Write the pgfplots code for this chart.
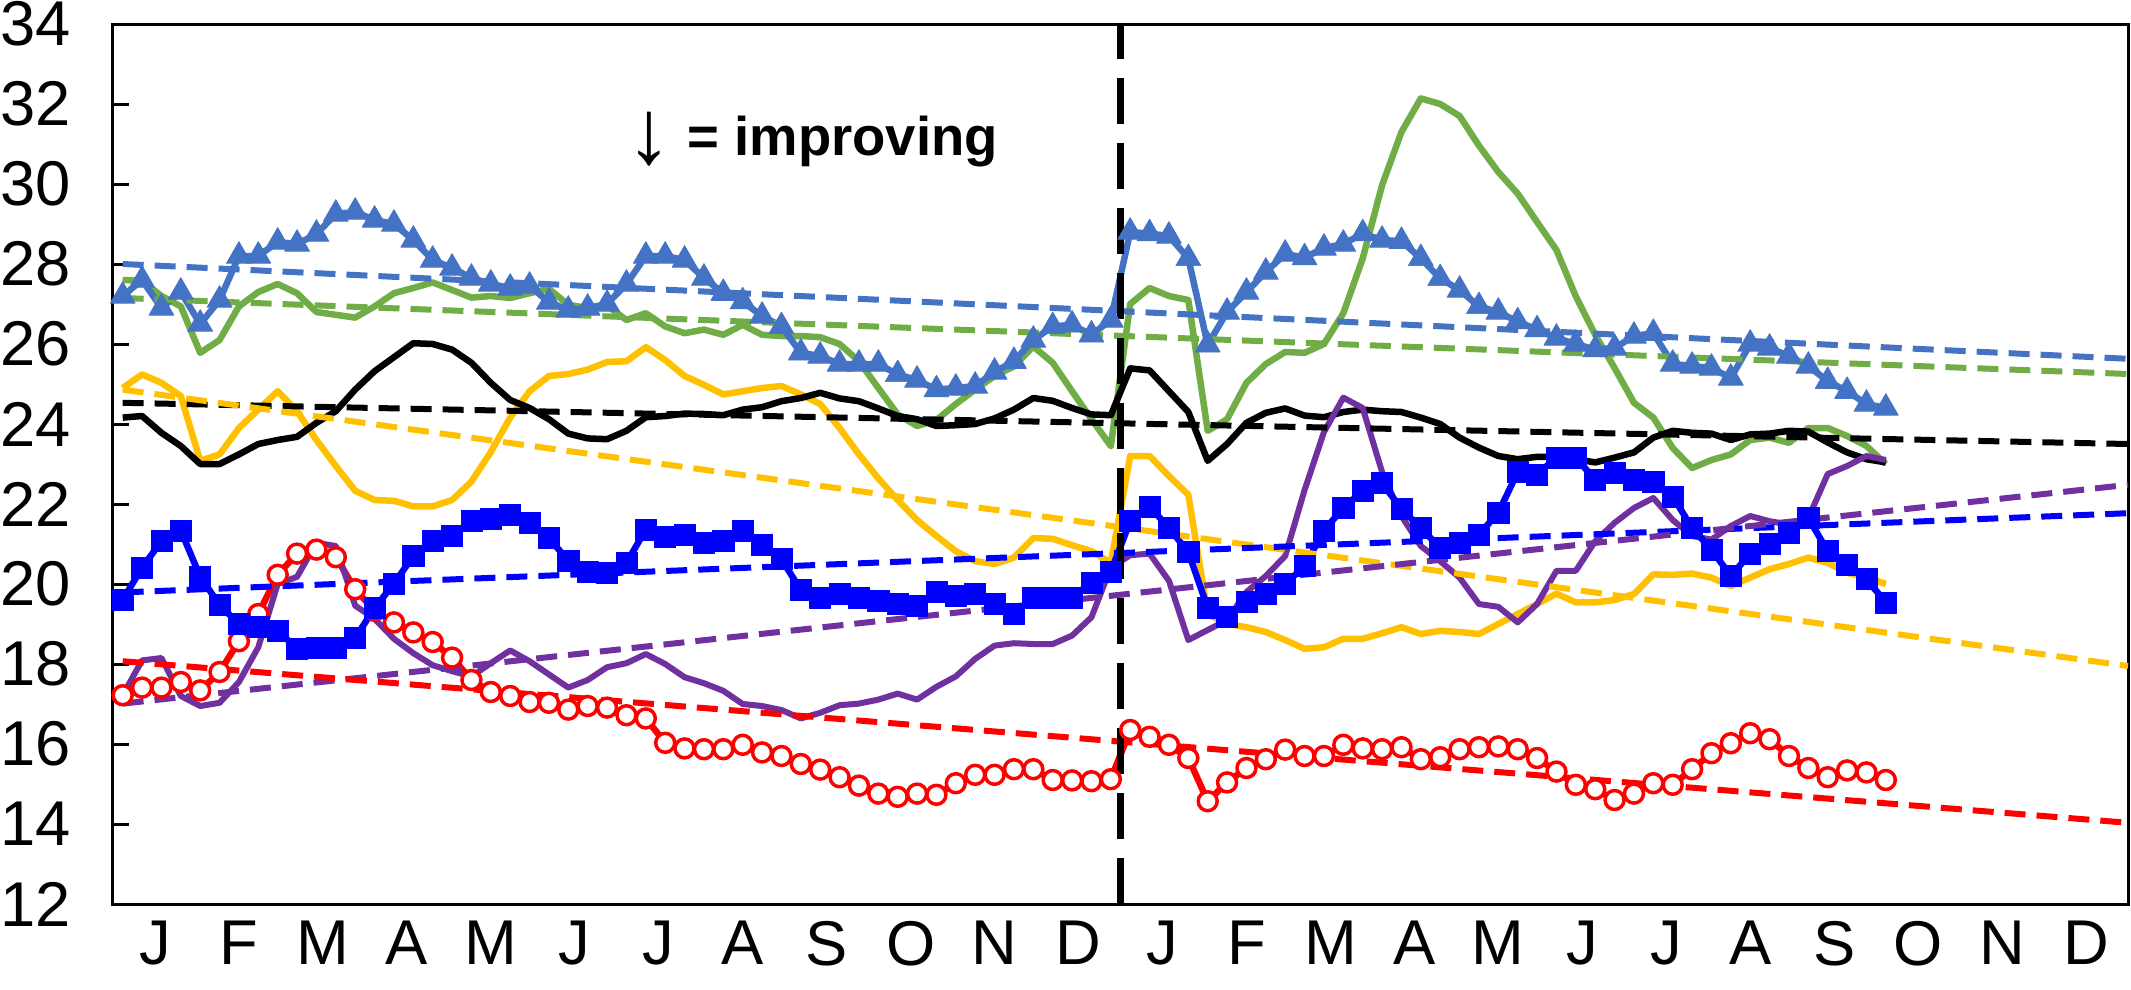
\documentclass[border=0pt]{standalone}
\usepackage{fontspec}
\setmainfont{Liberation Sans}
\usepackage{pgfplots}
\usepackage{pgfplotstable}
\pgfplotsset{compat=1.18}

\definecolor{tri}{HTML}{4472C4}
\definecolor{grn}{HTML}{70AD47}
\definecolor{yel}{HTML}{FFC000}
\definecolor{pur}{HTML}{7030A0}
\definecolor{sq}{HTML}{0000FF}
\definecolor{rd}{HTML}{FF0000}

% weekly values, weeks 0-51 = year 1, 52-91 = year 2
\pgfplotstableread{
i tri grn blk yel pur sq red
0 27.2 27.6 24.16 24.9 17.22 19.6 17.22
1 27.6 27.58 24.2 25.24 18.09 20.41 17.41
2 26.9 27.2 23.78 25.03 18.15 21.07 17.41
3 27.3 26.94 23.45 24.7 17.2 21.34 17.55
4 26.5 25.78 23.0 23.08 16.95 20.18 17.34
5 27.1 26.1 23.0 23.24 17.03 19.48 17.8
6 28.2 26.94 23.24 23.9 17.55 19.0 18.57
7 28.2 27.3 23.5 24.36 18.42 18.93 19.25
8 28.55 27.5 23.6 24.82 20.0 18.84 20.23
9 28.5 27.27 23.68 24.32 20.18 18.38 20.76
10 28.75 26.8 24.03 23.6 21.03 18.4 20.86
11 29.25 26.73 24.32 22.95 20.95 18.4 20.67
12 29.3 26.66 24.86 22.33 19.46 18.65 19.87
13 29.1 26.94 25.32 22.1 19.13 19.4 19.33
14 29.0 27.27 25.67 22.08 18.63 20.01 19.04
15 28.6 27.4 26.02 21.94 18.27 20.7 18.79
16 28.1 27.54 26.0 21.94 17.97 21.07 18.55
17 27.9 27.35 25.86 22.1 17.82 21.2 18.16
18 27.65 27.16 25.53 22.56 17.69 21.57 17.6
19 27.5 27.2 25.03 23.3 18.02 21.64 17.3
20 27.4 27.15 24.6 24.16 18.34 21.73 17.2
21 27.45 27.27 24.4 24.82 18.07 21.53 17.05
22 27.05 27.38 24.12 25.2 17.74 21.15 17.03
23 26.85 26.98 23.76 25.25 17.41 20.58 16.86
24 26.9 26.9 23.64 25.36 17.6 20.31 16.95
25 27.0 26.96 23.62 25.55 17.92 20.29 16.91
26 27.5 26.6 23.83 25.57 18.02 20.53 16.72
27 28.2 26.77 24.17 25.92 18.25 21.36 16.64
28 28.2 26.44 24.2 25.6 18.0 21.17 16.03
29 28.1 26.27 24.26 25.2 17.67 21.24 15.89
30 27.65 26.36 24.25 24.98 17.52 21.03 15.87
31 27.27 26.23 24.22 24.74 17.33 21.07 15.87
32 27.06 26.48 24.36 24.82 17.0 21.32 15.98
33 26.7 26.23 24.42 24.9 16.95 20.99 15.79
34 26.44 26.2 24.57 24.95 16.85 20.62 15.7
35 25.78 26.2 24.65 24.74 16.64 19.85 15.5
36 25.7 26.17 24.78 24.5 16.78 19.66 15.36
37 25.5 26.0 24.64 23.9 16.97 19.75 15.17
38 25.5 25.57 24.57 23.24 17.01 19.66 14.96
39 25.5 24.9 24.39 22.64 17.11 19.58 14.76
40 25.24 24.24 24.2 22.1 17.26 19.5 14.68
41 25.1 23.95 24.12 21.6 17.11 19.46 14.76
42 24.86 24.1 23.95 21.2 17.43 19.81 14.73
43 24.9 24.5 23.97 20.82 17.69 19.7 15.02
44 24.95 24.86 24.0 20.57 18.13 19.75 15.23
45 25.3 25.2 24.14 20.5 18.46 19.51 15.23
46 25.57 25.44 24.36 20.66 18.52 19.25 15.37
47 26.1 25.94 24.65 21.15 18.5 19.66 15.37
48 26.44 25.53 24.58 21.13 18.5 19.66 15.1
49 26.48 24.82 24.4 20.97 18.71 19.66 15.09
50 26.23 24.12 24.24 20.82 19.17 20.04 15.07
51 26.6 23.45 24.22 20.53 20.41 20.31 15.12
52 28.8 27.0 25.39 23.2 20.72 21.57 16.35
53 28.76 27.4 25.34 23.2 20.76 21.94 16.18
54 28.7 27.2 24.82 22.7 20.08 21.4 15.98
55 28.14 27.1 24.3 22.23 18.6 20.8 15.65
56 25.98 23.83 23.08 19.25 18.85 19.4 14.57
57 26.8 24.12 23.5 19.0 19.1 19.17 15.04
58 27.3 25.03 24.03 18.92 19.8 19.56 15.4
59 27.8 25.5 24.28 18.8 20.2 19.75 15.62
60 28.25 25.8 24.39 18.6 20.7 20.0 15.86
61 28.16 25.78 24.21 18.38 22.35 20.45 15.7
62 28.4 26.0 24.17 18.42 23.8 21.34 15.7
63 28.5 26.77 24.3 18.63 24.66 21.9 15.98
64 28.76 28.14 24.36 18.63 24.4 22.33 15.89
65 28.6 29.97 24.32 18.77 22.8 22.52 15.87
66 28.57 31.3 24.3 18.92 21.7 21.88 15.92
67 28.14 32.14 24.16 18.75 20.95 21.4 15.62
68 27.64 32.0 24.0 18.83 20.57 20.9 15.67
69 27.35 31.7 23.66 18.8 20.16 21.03 15.87
70 26.94 30.96 23.41 18.75 19.5 21.24 15.92
71 26.8 30.3 23.2 19.0 19.43 21.78 15.94
72 26.56 29.76 23.12 19.25 19.04 22.8 15.87
73 26.36 29.05 23.18 19.5 19.5 22.74 15.65
74 26.15 28.35 23.18 19.76 20.33 23.16 15.31
75 26.0 27.19 23.12 19.54 20.33 23.16 14.98
76 25.86 26.23 23.04 19.54 21.07 22.6 14.87
77 25.9 25.4 23.16 19.6 21.53 22.78 14.6
78 26.2 24.53 23.29 19.75 21.9 22.61 14.76
79 26.27 24.16 23.66 20.24 22.15 22.55 15.02
80 25.5 23.4 23.83 20.23 21.6 22.19 14.98
81 25.45 22.9 23.78 20.26 21.2 21.4 15.37
82 25.4 23.1 23.76 20.16 21.11 20.86 15.77
83 25.15 23.24 23.6 19.95 21.45 20.2 16.02
84 26.0 23.6 23.74 20.16 21.7 20.76 16.27
85 25.9 23.66 23.76 20.37 21.57 21.0 16.12
86 25.7 23.53 23.83 20.5 21.49 21.28 15.7
87 25.45 23.9 23.81 20.66 21.65 21.65 15.4
88 25.07 23.9 23.54 20.53 22.75 20.82 15.17
89 24.82 23.7 23.29 20.28 22.95 20.49 15.34
90 24.5 23.45 23.12 20.16 23.2 20.12 15.29
91 24.4 23.0 23.04 20.0 23.1 19.54 15.1
}\weekly

\begin{document}
\begin{tikzpicture}
\begin{axis}[
  scale only axis,
  width=201.5mm, height=88mm,
  xmin=-0.5, xmax=103.5, ymin=12, ymax=34,
  axis line style={line width=0.3mm},
  ytick={12,14,...,34},
  xtick={1.667,6,10.333,14.667,19,23.333,27.667,32,36.333,40.667,45,49.333,
         53.667,58,62.333,66.667,71,75.333,79.667,84,88.333,92.667,97,101.333},
  xticklabels={J,F,M,A,M,J,J,A,S,O,N,D,J,F,M,A,M,J,J,A,S,O,N,D},
  tick align=inside, ytick pos=left, xtick pos=bottom,
  x tick style={draw=none},
  y tick style={line width=0.3mm, black},
  major tick length=1.6mm,
  /pgf/number format/assume math mode=true,
  tick label style={font=\fontsize{18}{21}\selectfont},
  yticklabel style={xshift=-3mm},
  xticklabel style={yshift=-0.5mm},
  every axis plot/.append style={line width=0.65mm, line join=round},
  trend/.style={line width=0.6mm, dash pattern=on 2.1mm off 1.1mm},
  clip=false,
]
\addplot[yel, no marks] table[x=i, y=yel] {\weekly};
\addplot[grn, no marks] table[x=i, y=grn] {\weekly};
\addplot[black, no marks] table[x=i, y=blk] {\weekly};
\addplot[rd, mark=*, mark size=2.7pt, mark options={fill=white, draw=rd, line width=0.35mm}] table[x=i, y=red] {\weekly};
\addplot[pur, no marks, line width=0.6mm] table[x=i, y=pur] {\weekly};
\addplot[tri, mark=triangle*, mark size=4.1pt, mark options={fill=tri, draw=tri, line width=0.2pt}] table[x=i, y=tri] {\weekly};
\addplot[sq, mark=square*, mark size=3pt, mark options={fill=sq, draw=sq, line width=0.2pt}] table[x=i, y=sq] {\weekly};

% linear trend lines
\addplot[tri, trend] coordinates {(0,28.0) (103.5,25.63)};
\addplot[grn, trend] coordinates {(0,27.15) (103.5,25.25)};
\addplot[black, trend] coordinates {(0,24.53) (103.5,23.5)};
\addplot[yel, trend] coordinates {(0,24.86) (103.5,17.95)};
\addplot[sq, trend] coordinates {(0,19.79) (103.5,21.77)};
\addplot[pur, trend] coordinates {(0,17.01) (103.5,22.48)};
\addplot[rd, trend] coordinates {(0,18.07) (103.5,14.03)};

% year boundary
\addplot[black, line width=0.75mm, dash pattern=on 4.6mm off 1.9mm] coordinates {(51.5,12) (51.5,34)};

\node[font=\bfseries\fontsize{15.5}{18}\selectfont, inner sep=0pt] at (axis cs:35.6,31.1)
  {\raisebox{-0.8mm}{\fontsize{26}{26}\selectfont\mdseries ↓} = improving};
\end{axis}
\pgfresetboundingbox
\path[use as bounding box] ([shift={(-11.3mm,-8.5mm)}]current axis.south west) rectangle ([shift={(0.3mm,2.4mm)}]current axis.north east);
\end{tikzpicture}
\end{document}
